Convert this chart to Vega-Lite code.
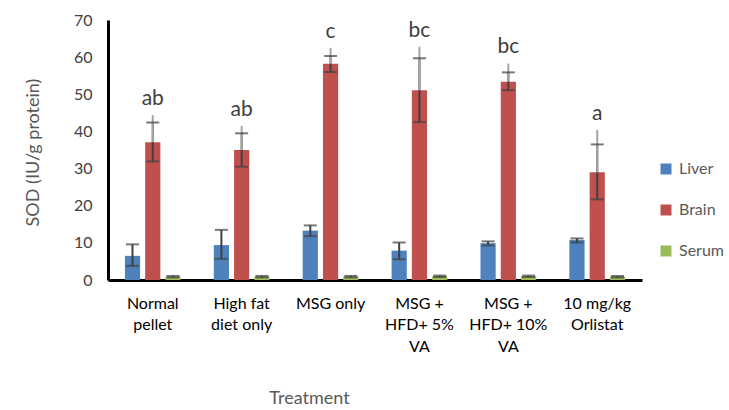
{
  "$schema": "https://vega.github.io/schema/vega-lite/v6.json",
  "autosize": "none",
  "width": 534,
  "height": 260,
  "padding": {"left": 108, "top": 20, "right": 87, "bottom": 130},
  "background": "white",
  "config": {
    "view": {"stroke": null},
    "font": "Lato",
    "axis": {"ticks": false, "grid": false, "domainColor": "#000000", "domainWidth": 3, "titleFontWeight": "normal", "titleColor": "#595959", "labelOverlap": false},
    "axisY": {"titleFontSize": 18, "titleX": -75, "titleY": 132, "titleAngle": -90, "titleAlign": "center", "titleBaseline": "middle",
      "labelFontSize": 16, "labelColor": "#404040", "labelPadding": 16, "tickCount": 7},
    "axisX": {"titleFontSize": 18, "titleX": 201, "titleY": 118, "titleBaseline": "middle", "titleAlign": "center",
      "labelAngle": 0, "labelFontSize": 16, "labelColor": "#000000", "labelPadding": 15, "labelLineHeight": 21.5, "labelBaseline": "top"}
  },
  "data": {"values": [
    {"Treatment": "Normal pellet", "Organ": "Liver", "value": 6.5, "lo": 3.8, "hi": 9.6, "ext": null, "sig": null},
    {"Treatment": "Normal pellet", "Organ": "Brain", "value": 37.1, "lo": 31.9, "hi": 42.4, "ext": 44.4, "sig": "ab"},
    {"Treatment": "Normal pellet", "Organ": "Serum", "value": 0.9, "lo": 0.7, "hi": 1.1, "ext": null, "sig": null},
    {"Treatment": "High fat diet only", "Organ": "Liver", "value": 9.4, "lo": 5.7, "hi": 13.5, "ext": null, "sig": null},
    {"Treatment": "High fat diet only", "Organ": "Brain", "value": 35.0, "lo": 30.5, "hi": 39.5, "ext": 41.5, "sig": "ab"},
    {"Treatment": "High fat diet only", "Organ": "Serum", "value": 0.9, "lo": 0.7, "hi": 1.1, "ext": null, "sig": null},
    {"Treatment": "MSG only", "Organ": "Liver", "value": 13.3, "lo": 11.8, "hi": 14.7, "ext": null, "sig": null},
    {"Treatment": "MSG only", "Organ": "Brain", "value": 58.2, "lo": 56.0, "hi": 60.3, "ext": 62.5, "sig": "c"},
    {"Treatment": "MSG only", "Organ": "Serum", "value": 0.9, "lo": 0.7, "hi": 1.1, "ext": null, "sig": null},
    {"Treatment": "MSG + HFD+ 5% VA", "Organ": "Liver", "value": 7.9, "lo": 5.6, "hi": 10.1, "ext": null, "sig": null},
    {"Treatment": "MSG + HFD+ 5% VA", "Organ": "Brain", "value": 51.1, "lo": 42.5, "hi": 59.7, "ext": 62.8, "sig": "bc"},
    {"Treatment": "MSG + HFD+ 5% VA", "Organ": "Serum", "value": 1.0, "lo": 0.8, "hi": 1.2, "ext": null, "sig": null},
    {"Treatment": "MSG + HFD+ 10% VA", "Organ": "Liver", "value": 9.9, "lo": 9.3, "hi": 10.4, "ext": null, "sig": null},
    {"Treatment": "MSG + HFD+ 10% VA", "Organ": "Brain", "value": 53.4, "lo": 51.1, "hi": 55.9, "ext": 58.3, "sig": "bc"},
    {"Treatment": "MSG + HFD+ 10% VA", "Organ": "Serum", "value": 1.0, "lo": 0.8, "hi": 1.2, "ext": null, "sig": null},
    {"Treatment": "10 mg/kg Orlistat", "Organ": "Liver", "value": 10.8, "lo": 10.1, "hi": 11.2, "ext": null, "sig": null},
    {"Treatment": "10 mg/kg Orlistat", "Organ": "Brain", "value": 29.0, "lo": 21.7, "hi": 36.5, "ext": 40.4, "sig": "a"},
    {"Treatment": "10 mg/kg Orlistat", "Organ": "Serum", "value": 0.9, "lo": 0.7, "hi": 1.1, "ext": null, "sig": null}
  ]},
  "encoding": {
    "x": {
      "field": "Treatment", "type": "nominal", "sort": null, "title": "Treatment",
      "scale": {"paddingInner": 0.373, "paddingOuter": 0.19},
      "axis": {
        "labelExpr": "datum.value == 'Normal pellet' ? ['Normal', 'pellet'] : datum.value == 'High fat diet only' ? ['High fat', 'diet only'] : datum.value == 'MSG only' ? ['MSG only'] : datum.value == 'MSG + HFD+ 5% VA' ? ['MSG +', 'HFD+ 5%', 'VA'] : datum.value == 'MSG + HFD+ 10% VA' ? ['MSG +', 'HFD+ 10%', 'VA'] : ['10 mg/kg', 'Orlistat']"
      }
    },
    "xOffset": {"field": "Organ", "type": "nominal", "sort": ["Liver", "Brain", "Serum"], "scale": {"paddingInner": 0.25, "paddingOuter": 0}}
  },
  "layer": [
    {
      "mark": {"type": "bar"},
      "encoding": {
        "y": {"field": "value", "type": "quantitative", "title": "SOD (IU/g protein)",
          "scale": {"domain": [0, 70], "nice": false}},
        "color": {"field": "Organ", "type": "nominal",
          "scale": {"domain": ["Liver", "Brain", "Serum"], "range": ["#4F81BD", "#C0504D", "#9BBB59"]},
          "legend": {"title": null, "orient": "none", "legendX": 550, "legendY": 141, "symbolType": "square", "symbolSize": 121,
            "symbolStrokeWidth": 0, "labelFontSize": 16, "labelColor": "#595959", "rowPadding": 25, "labelOffset": 5}}
      }
    },
    {
      "mark": {"type": "rule", "color": "#404040", "strokeWidth": 2},
      "encoding": {"y": {"field": "lo", "type": "quantitative", "title": "SOD (IU/g protein)"}, "y2": {"field": "hi"}}
    },
    {
      "transform": [{"filter": "datum.ext != null"}],
      "mark": {"type": "rule", "color": "#A6A6A6", "strokeWidth": 2},
      "encoding": {"y": {"field": "value", "type": "quantitative", "title": "SOD (IU/g protein)"}, "y2": {"field": "ext"}}
    },
    {
      "mark": {"type": "tick", "color": "#404040", "size": 13, "thickness": 2, "orient": "horizontal"},
      "encoding": {"y": {"field": "lo", "type": "quantitative", "title": "SOD (IU/g protein)"}}
    },
    {
      "mark": {"type": "tick", "color": "#404040", "size": 13, "thickness": 2, "orient": "horizontal"},
      "encoding": {"y": {"field": "hi", "type": "quantitative", "title": "SOD (IU/g protein)"}}
    },
    {
      "transform": [{"filter": "datum.sig != null"}],
      "mark": {"type": "text", "fontSize": 21, "color": "#404040", "baseline": "middle", "dy": -16},
      "encoding": {"y": {"field": "ext", "type": "quantitative", "title": "SOD (IU/g protein)"}, "text": {"field": "sig"}}
    }
  ]
}
